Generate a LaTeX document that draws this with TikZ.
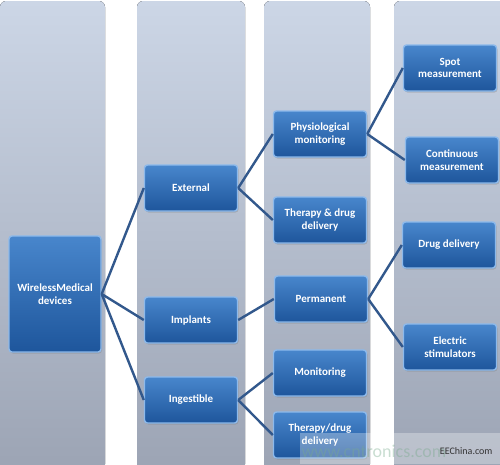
\documentclass[tikz,border=0pt]{standalone}
\usepackage{fontspec}
\setmainfont{Carlito}
\usetikzlibrary{shadows}
\definecolor{colTop}{RGB}{204,214,230}
\definecolor{colBot}{RGB}{156,164,180}
\definecolor{boxTop}{RGB}{72,134,204}
\definecolor{boxBot}{RGB}{30,86,156}
\definecolor{boxEdge}{RGB}{140,185,235}
\definecolor{linkC}{RGB}{50,88,140}
\definecolor{wmark}{RGB}{120,170,140}
\begin{document}
\begin{tikzpicture}[x=1pt,y=-1pt,
  col/.style={rounded corners=6pt, top color=colTop, bottom color=colBot, draw=none},
  box/.style={rounded corners=3pt, draw=boxEdge, line width=1.4pt,
    top color=boxTop, bottom color=boxBot, text=white,
    font=\bfseries\fontsize{11}{12.5}\selectfont, align=center,
    minimum width=93pt, minimum height=46pt, inner sep=1pt,
    drop shadow={shadow xshift=1pt, shadow yshift=-1.5pt, opacity=0.35}},
  link/.style={draw=linkC, line width=2.4pt}]
\useasboundingbox (0,0) rectangle (500,464);
% background columns
\fill[col] (0,1) rectangle (105,470);
\fill[col] (137,1) rectangle (245,470);
\fill[col] (264,1) rectangle (370,470);
\fill[col] (394,1) rectangle (506,470);
% nodes
\node[box, minimum width=92pt, minimum height=116pt] (wm) at (55,294) {WirelessMedical\\devices};
\node[box] (ext) at (191,188) {External};
\node[box] (imp) at (191,320) {Implants};
\node[box] (ing) at (191,400) {Ingestible};
\node[box] (phy) at (320,134) {Physiological\\monitoring};
\node[box] (thd) at (320,220) {Therapy \& drug\\delivery};
\node[box] (per) at (321,299) {Permanent};
\node[box] (mon) at (320,373) {Monitoring};
\node[box] (tdd) at (320,435) {Therapy/drug\\delivery};
\node[box] (spot) at (450,68) {Spot\\measurement};
\node[box] (cont) at (452,160) {Continuous\\measurement};
\node[box] (drug) at (449,245) {Drug delivery};
\node[box] (elec) at (450,347) {Electric\\stimulators};
% connectors
\foreach \a/\b in {wm/ext, wm/imp, wm/ing, ext/phy, ext/thd, imp/per, ing/mon, ing/tdd, phy/spot, phy/cont, per/drug, per/elec}
  \draw[link] (\a.east) -- (\b.west);
% watermark
\fill[white, opacity=0.3] (300,433) rectangle (500,464);
\node[text=wmark, opacity=0.4, font=\fontsize{18}{18}\selectfont, anchor=west] (wwm) at (298,451) {www.cntronics.com};
\node[text=black!80, font=\fontsize{10}{10}\selectfont, anchor=east] (eec) at (496,451) {EEChina.com};
\end{tikzpicture}
\end{document}
